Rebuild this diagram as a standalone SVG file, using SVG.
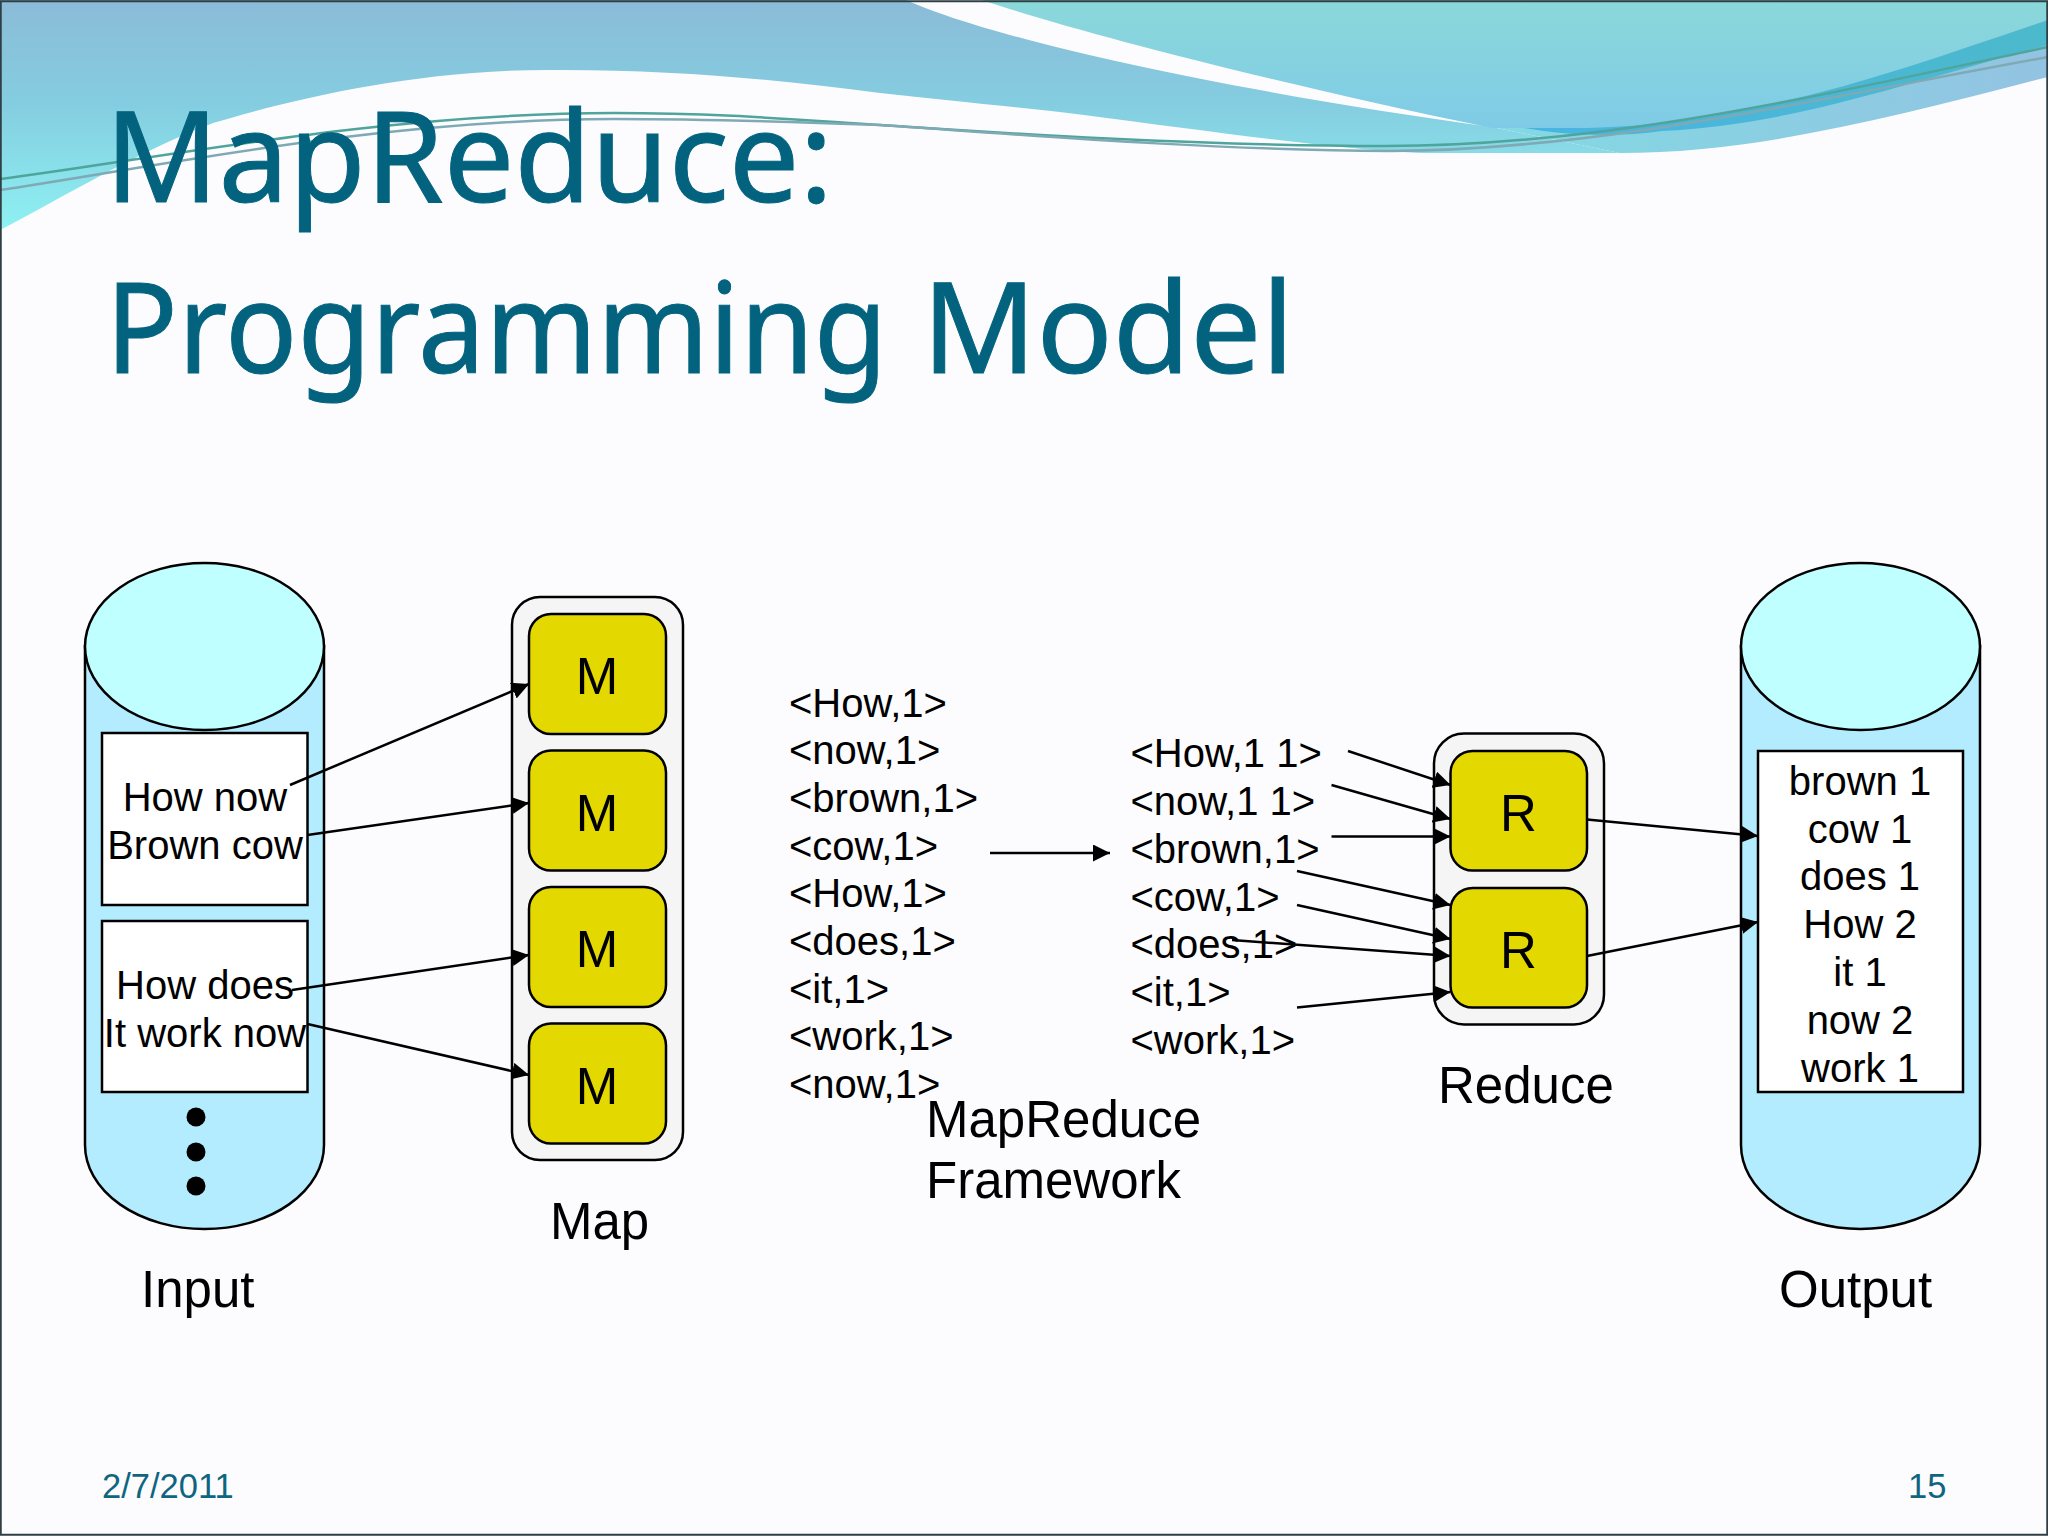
<svg xmlns="http://www.w3.org/2000/svg" width="2048" height="1536" viewBox="0 0 2048 1536">
<style>
.t{font-family:"Liberation Sans",Arial,sans-serif;fill:#000}
.s{font-size:40px}
.l{font-size:51px}
.c{text-anchor:middle}
.title{font-family:"Noto Sans","Open Sans",sans-serif;font-size:126px;fill:#03637f;stroke:#03637f;stroke-width:1px}
.foot{font-family:"Liberation Sans",Arial,sans-serif;font-size:34.5px;fill:#0f6580}
.cyl{fill:#b3ecff;stroke:#000;stroke-width:2.5}
.top{fill:#c0ffff;stroke:#000;stroke-width:2.5}
.box{fill:#fff;stroke:#000;stroke-width:2.5}
.grp{fill:#f5f5f5;stroke:#000;stroke-width:2.5}
.y{fill:#e3d800;stroke:#000;stroke-width:2.5}
.con line{stroke:#000;stroke-width:2.5;marker-end:url(#a)}
</style>
<defs>
<marker id="a" markerUnits="userSpaceOnUse" markerWidth="18" markerHeight="17" refX="17" refY="8.500" orient="auto"><path d="M0,0L17,8.500L0,17Z" fill="#000"/></marker>
<linearGradient id="g1" gradientUnits="userSpaceOnUse" x1="0" y1="0" x2="0" y2="232"><stop offset="0" stop-color="#8bbbd8"/><stop offset=".45" stop-color="#84cde0"/><stop offset="1" stop-color="#8ef2f3"/></linearGradient>
<linearGradient id="g2" gradientUnits="userSpaceOnUse" x1="0" y1="0" x2="0" y2="130"><stop offset="0" stop-color="#8bd8da"/><stop offset="1" stop-color="#7fcbe7"/></linearGradient>
<linearGradient id="g3" gradientUnits="userSpaceOnUse" x1="1400" y1="150" x2="2048" y2="60"><stop offset="0" stop-color="#80dde3"/><stop offset="1" stop-color="#93c3e2"/></linearGradient>
<linearGradient id="g4" gradientUnits="userSpaceOnUse" x1="1524" y1="0" x2="2048" y2="0"><stop offset="0" stop-color="#47b5e2"/><stop offset="1" stop-color="#4cb9cc"/></linearGradient>
</defs>
<rect width="2048" height="1536" fill="#fcfcfe"/>
<g id="banner">
<path d="M0,0H906C990,38 1220,90 1492,127L1620,153H1423C1340,150 1200,130 1084,115C1000,105 940,100 880,93C780,80 680,70 562,70C420,68 290,100 213,123C130,155 50,205 0,230Z" fill="url(#g1)"/>
<path d="M1492,127L1620,120L2048,20V77C1900,115 1760,153 1620,153Z" fill="url(#g3)"/>
<path d="M982,0H2048V20C1900,70 1750,125 1586,128H1492C1260,80 1065,28 982,0Z" fill="url(#g2)"/>
<path d="M1524,128H1586C1750,125 1900,70 2048,20V45C1900,85 1790,125 1662,131C1620,137 1570,136 1524,128Z" fill="url(#g4)"/>
<path d="M0,179C150,160 380,113 614,113C720,113 800,120 880,125C1000,133 1200,146 1385,146C1600,146 1800,100 2048,47" fill="none" stroke="#4fa59b" stroke-width="2.5"/>
<path d="M0,190C150,168 380,119 614,119C720,119 800,122 880,125C1000,133 1200,150 1390,151C1600,150 1800,102 2048,57" fill="none" stroke="#7fa9b4" stroke-width="2.500"/>
</g>
<rect x="0.750" y="1.250" width="2046.500" height="1533.500" fill="none" stroke="#2f3f44" stroke-width="2"/>
<text class="title" x="105" y="202" textLength="728" lengthAdjust="spacingAndGlyphs">MapReduce:</text>
<text class="title" y="373"><tspan x="105.500" textLength="782" lengthAdjust="spacingAndGlyphs">Programming</tspan> <tspan x="922" textLength="372" lengthAdjust="spacingAndGlyphs">Model</tspan></text>
<g id="input">
<path class="cyl" d="M85,646V1145A119.500,84 0 0 0 324,1145V646Z"/>
<ellipse class="top" cx="204.500" cy="646.500" rx="119.500" ry="83.500"/>
<rect class="box" x="102" y="733" width="205.500" height="172"/>
<text class="t s c" x="205" y="811">How now</text>
<text class="t s c" x="205" y="859">Brown cow</text>
<rect class="box" x="102" y="921" width="205.500" height="171"/>
<text class="t s c" x="205" y="999">How does</text>
<text class="t s c" x="205" y="1047">It work now</text>
<circle cx="196" cy="1117" r="9.500"/><circle cx="196" cy="1152" r="9.500"/><circle cx="196" cy="1186" r="9.500"/>
<text class="t l" x="141" y="1307">Input</text>
</g>
<g id="map">
<rect class="grp" x="512" y="597" width="171" height="563" rx="28"/>
<rect class="y" x="529" y="614" width="137" height="120" rx="22"/>
<rect class="y" x="529" y="750.500" width="137" height="120" rx="22"/>
<rect class="y" x="529" y="887" width="137" height="120" rx="22"/>
<rect class="y" x="529" y="1023.500" width="137" height="120" rx="22"/>
<text class="t l c" x="597" y="694">M</text>
<text class="t l c" x="597" y="830.500">M</text>
<text class="t l c" x="597" y="967">M</text>
<text class="t l c" x="597" y="1103.500">M</text>
<text class="t l" x="550" y="1239">Map</text>
</g>
<g id="pairs">
<text class="t s" x="789" y="716.500">&lt;How,1&gt;</text>
<text class="t s" x="789" y="764">&lt;now,1&gt;</text>
<text class="t s" x="789" y="811.500">&lt;brown,1&gt;</text>
<text class="t s" x="789" y="859.500">&lt;cow,1&gt;</text>
<text class="t s" x="789" y="907">&lt;How,1&gt;</text>
<text class="t s" x="789" y="955">&lt;does,1&gt;</text>
<text class="t s" x="789" y="1002.500">&lt;it,1&gt;</text>
<text class="t s" x="789" y="1050">&lt;work,1&gt;</text>
<text class="t s" x="789" y="1098">&lt;now,1&gt;</text>
</g>
<g id="framework">
<text class="t l" x="926" y="1137">MapReduce</text>
<text class="t l" x="926" y="1198">Framework</text>
</g>
<g id="grouped">
<text class="t s" x="1130.500" y="767">&lt;How,1 1&gt;</text>
<text class="t s" x="1130.500" y="815">&lt;now,1 1&gt;</text>
<text class="t s" x="1130.500" y="863">&lt;brown,1&gt;</text>
<text class="t s" x="1130.500" y="911">&lt;cow,1&gt;</text>
<text class="t s" x="1130.500" y="958">&lt;does,1&gt;</text>
<text class="t s" x="1130.500" y="1006">&lt;it,1&gt;</text>
<text class="t s" x="1130.500" y="1054">&lt;work,1&gt;</text>
</g>
<g id="reduce">
<rect class="grp" x="1434" y="733.500" width="170" height="291" rx="30"/>
<rect class="y" x="1450.500" y="751" width="136.500" height="119.500" rx="22"/>
<rect class="y" x="1450.500" y="888" width="136.500" height="119.500" rx="22"/>
<text class="t l c" x="1518.500" y="830.500">R</text>
<text class="t l c" x="1518.500" y="967.500">R</text>
<text class="t l" x="1438" y="1103">Reduce</text>
</g>
<g id="output">
<path class="cyl" d="M1741,646V1145A119.500,84 0 0 0 1980,1145V646Z"/>
<ellipse class="top" cx="1860.500" cy="646.500" rx="119.500" ry="83.500"/>
<rect class="box" x="1758" y="751" width="205" height="341"/>
<text class="t s c" x="1860" y="794.500">brown 1</text>
<text class="t s c" x="1860" y="842.500">cow 1</text>
<text class="t s c" x="1860" y="890">does 1</text>
<text class="t s c" x="1860" y="937.500">How 2</text>
<text class="t s c" x="1860" y="985.500">it 1</text>
<text class="t s c" x="1860" y="1033.500">now 2</text>
<text class="t s c" x="1860" y="1081.500">work 1</text>
<text class="t l" x="1779" y="1307">Output</text>
</g>
<g id="connectors" class="con">
<line x1="290" y1="785" x2="529" y2="684"/>
<line x1="307.500" y1="835" x2="529" y2="803"/>
<line x1="292" y1="990" x2="529" y2="955"/>
<line x1="307.500" y1="1024" x2="529" y2="1075"/>
<line x1="990" y1="853" x2="1110" y2="853"/>
<line x1="1348" y1="751" x2="1450.500" y2="785"/>
<line x1="1331.500" y1="785" x2="1450.500" y2="819"/>
<line x1="1331.500" y1="836.500" x2="1450.500" y2="836.500"/>
<line x1="1297" y1="871" x2="1450.500" y2="905"/>
<line x1="1297" y1="905" x2="1450.500" y2="939"/>
<line x1="1232" y1="940" x2="1450.500" y2="956"/>
<line x1="1297" y1="1007.500" x2="1450.500" y2="992"/>
<line x1="1587" y1="819.500" x2="1758" y2="836"/>
<line x1="1587" y1="956" x2="1758" y2="922"/>
</g>
<text class="foot" x="102" y="1498">2/7/2011</text>
<text class="foot" x="1908" y="1498">15</text>
</svg>
